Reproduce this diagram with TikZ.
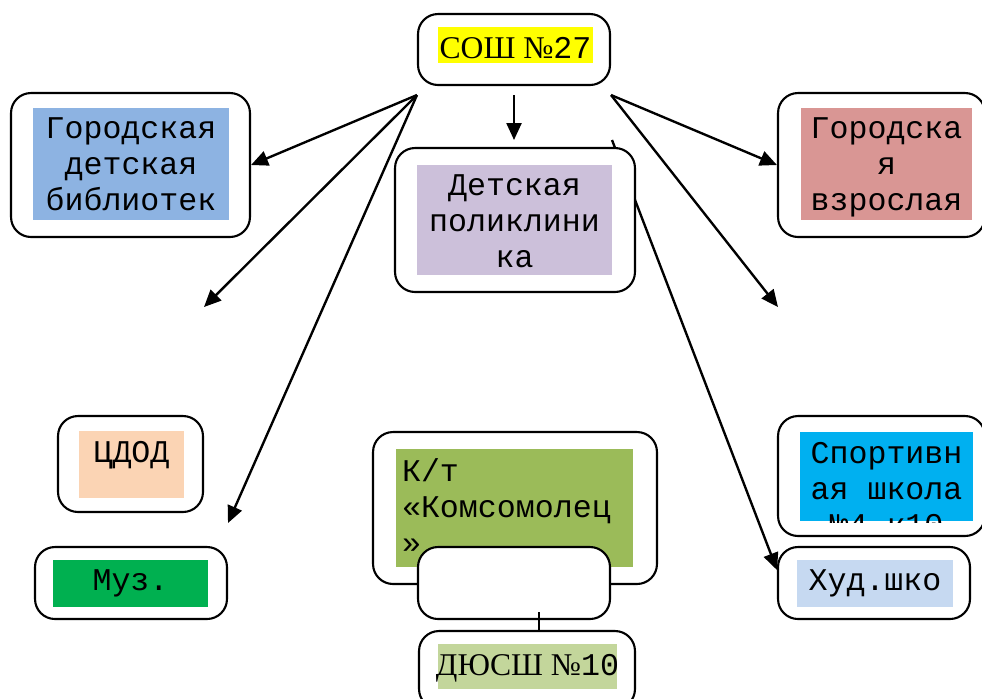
\documentclass[tikz,border=0pt]{standalone}
\usepackage{fontspec}
\setmainfont{Liberation Mono}
\newfontfamily\timesfont{Liberation Serif}
\usetikzlibrary{arrows.meta}

\definecolor{soshyellow}{HTML}{FFFF00}
\definecolor{bibblue}{HTML}{8DB3E2}
\definecolor{polililac}{HTML}{CCC0DA}
\definecolor{vzrred}{HTML}{D99694}
\definecolor{cdodpeach}{HTML}{FBD4B4}
\definecolor{muzgreen}{HTML}{00B050}
\definecolor{ktgreen}{HTML}{9BBB59}
\definecolor{dyushgreen}{HTML}{C3D69B}
\definecolor{sportblue}{HTML}{00B0F0}
\definecolor{hudblue}{HTML}{C6D9F1}

\begin{document}
\begin{tikzpicture}[x=0.02cm,y=-0.02cm,line width=1.2pt,
    big node/.style={draw,rounded corners=0.4cm,fill=white,inner sep=0pt},
    color node/.style={inner sep=0pt},
    txt node/.style={inner sep=0pt,anchor=north,align=center,font=\fontsize{18}{20.5}\selectfont},
    arr/.style={line width=1.35pt,-{Triangle[length=0.34cm,width=0.3cm]}}]
    \useasboundingbox (0,0) rectangle (982,698);

    % line to Hud. shkola runs behind the policlinic box
    \coordinate (h0) at (612,140);
    \coordinate (h1) at (777,570);
    \draw[arr] (h0) -- (h1);

    \node[big node,minimum width=3.84cm,minimum height=1.42cm] (sosh) at (514,49.5) {};
    \node[color node,fill=soshyellow,minimum width=3.1cm,minimum height=0.72cm] (soshf) at (515.5,45) {};
    \node[txt node] at ([yshift=-0.2cm]soshf.north) {{\timesfont СОШ №}27};

    \node[big node,minimum width=4.78cm,minimum height=2.88cm] (bib) at (130.5,165) {};
    \node[color node,fill=bibblue,minimum width=3.92cm,minimum height=2.24cm] (bibf) at (131,164) {};
    \node[txt node] at ([yshift=-0.2cm]bibf.north) {Городская\\детская\\библиотек};

    \node[big node,minimum width=4.8cm,minimum height=2.88cm] (poli) at (515,220) {};
    \node[color node,fill=polililac,minimum width=3.9cm,minimum height=2.2cm] (polif) at (514.5,220) {};
    \node[txt node] at ([yshift=-0.2cm]polif.north) {Детская\\поликлини\\ка};

    \node[big node,minimum width=4.14cm,minimum height=2.88cm] (vzr) at (881.5,165) {};
    \node[color node,fill=vzrred,minimum width=3.42cm,minimum height=2.24cm] (vzrf) at (886.5,164) {};
    \node[txt node] at ([yshift=-0.2cm]vzrf.north) {Городска\\я\\взрослая};

    \node[big node,minimum width=2.9cm,minimum height=1.92cm] (cdod) at (130.5,464) {};
    \node[color node,fill=cdodpeach,minimum width=2.1cm,minimum height=1.34cm] (cdodf) at (131.5,464.5) {};
    \node[txt node] at ([yshift=-0.2cm]cdodf.north) {ЦДОД};

    \node[big node,minimum width=3.84cm,minimum height=1.44cm] (muz) at (131,583) {};
    \node[color node,fill=muzgreen,minimum width=3.1cm,minimum height=0.94cm] (muzf) at (130.5,583.5) {};
    \node[txt node] at ([yshift=-0.2cm]muzf.north) {Муз.};

    \node[big node,minimum width=5.68cm,minimum height=3.04cm] (kt) at (515,508) {};
    \node[color node,fill=ktgreen,minimum width=4.74cm,minimum height=2.36cm] (ktf) at (514.5,508) {};
    \node[txt node,anchor=north west,align=left] at ([xshift=0.12cm,yshift=-0.2cm]ktf.north west) {К/т\\«Комсомолец\\»};
    \node[big node,minimum width=3.84cm,minimum height=1.44cm] (blank) at (514,583) {};

    \node[big node,minimum width=4.32cm,minimum height=1.56cm] (dyush) at (527,670) {};
    \node[color node,fill=dyushgreen,minimum width=3.58cm,minimum height=0.9cm] (dyushf) at (527.5,666.5) {};
    \node[txt node] at ([yshift=-0.2cm]dyushf.north) {{\timesfont ДЮСШ №}10};

    \node[big node,minimum width=4.14cm,minimum height=2.4cm] (sport) at (881.5,476) {};
    \node[color node,fill=sportblue,minimum width=3.46cm,minimum height=1.78cm] (sportf) at (886.5,476.5) {};
    \begin{scope}
      \clip (sportf.south west) rectangle (sportf.north east);
      \node[txt node] at ([yshift=-0.2cm]sportf.north) {Спортивн\\ая школа\\№4 к10};
    \end{scope}

    \node[big node,minimum width=3.84cm,minimum height=1.44cm] (hud) at (874,583) {};
    \node[color node,fill=hudblue,minimum width=3.12cm,minimum height=0.94cm] (hudf) at (875,583.5) {};
    \node[txt node] at ([yshift=-0.2cm]hudf.north) {Худ.шко};

    % arrows from the school
    \coordinate (sl) at ([yshift=-0.18cm]sosh.south west);
    \coordinate (sm) at ([yshift=-0.18cm]sosh.south);
    \coordinate (sr) at ([yshift=-0.18cm]sosh.south east);
    \coordinate (a1) at (204,307);
    \coordinate (a2) at (228,523);
    \coordinate (a3) at (514,140);
    \coordinate (a4) at (778,307);
    \draw[arr] (sl) -- (bib.east);
    \draw[arr] (sl) -- (a1);
    \draw[arr] (sl) -- (a2);
    \draw[arr] (sm) -- (a3);
    \draw[arr] (sr) -- (vzr.west);
    \draw[arr] (sr) -- (a4);

    \coordinate (d0) at (539,612);
    \draw (d0) -- (d0 |- dyush.north);
\end{tikzpicture}
\end{document}
